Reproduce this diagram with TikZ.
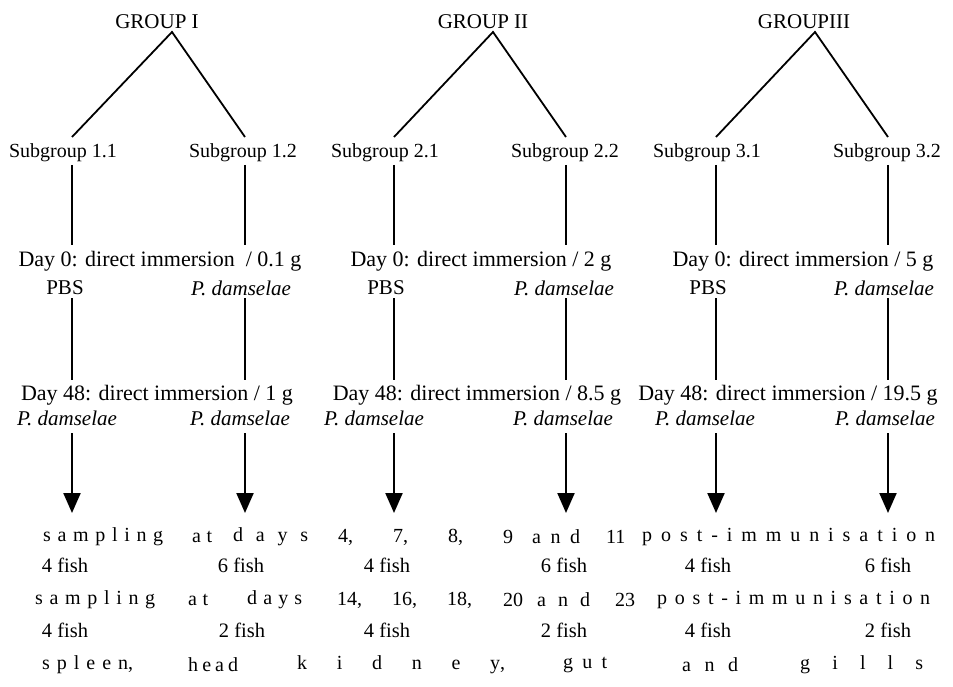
\documentclass[tikz,border=0pt]{standalone}
\usepackage{fontspec}
\setmainfont{Liberation Serif}
\usetikzlibrary{arrows.meta}

% letters of a word spread over a given width (in pt)
\newcommand\spreadword[2]{\makebox[#1pt][s]{\spreadfirst#2\relax}}
\def\spreadfirst#1{#1\spreadnext}
\def\spreadnext#1{\ifx#1\relax\else\hfill#1\expandafter\spreadnext\fi}

\tikzset{
  grouplabel/.style={font=\fontsize{21}{25}\selectfont, inner sep=0pt},
  sublabel/.style={font=\fontsize{20}{24}\selectfont, inner sep=0pt},
  daylabel/.style={font=\fontsize{22}{26}\selectfont, inner sep=0pt},
  agentlabel/.style={font=\fontsize{21}{25}\selectfont, inner sep=0pt},
  fishlabel/.style={font=\fontsize{20.5}{24}\selectfont, inner sep=0pt},
  spread/.style={anchor=west, font=\fontsize{20}{24}\selectfont, inner sep=0pt},
  link/.style={line width=1.8pt},
  downarrow/.style={line width=2.2pt, -{Triangle[length=20pt,width=17pt]}}
}

\begin{document}
\begin{tikzpicture}[x=1pt, y=-1pt]
        \useasboundingbox (0,0) rectangle (953,687);

        % Gruppi
        \node[grouplabel] (g1) at (157,22) {GROUP I};
        \node[grouplabel] (g2) at (483,22) {GROUP II};
        \node[grouplabel] (g3) at (804,22) {GROUPIII};
        \coordinate (apex1) at (172,32);
        \coordinate (apex2) at (493,32);
        \coordinate (apex3) at (815,32);

        % Sottogruppi
        \node[sublabel] (sub11) at (63,153) {Subgroup 1.1};
        \node[sublabel] (sub12) at (243,153) {Subgroup 1.2};
        \node[sublabel] (sub21) at (385,153) {Subgroup 2.1};
        \node[sublabel] (sub22) at (565,153) {Subgroup 2.2};
        \node[sublabel] (sub31) at (707,153) {Subgroup 3.1};
        \node[sublabel] (sub32) at (887,153) {Subgroup 3.2};

        % Colonne: linee e frecce
        \foreach \c/\x in {11/72, 12/245, 21/394, 22/566, 31/716, 32/888} {
            \coordinate (s\c) at (\x,137);
            \coordinate (a\c) at (\x,165);
            \coordinate (b\c) at (\x,245);
            \coordinate (c\c) at (\x,298);
            \coordinate (d\c) at (\x,380);
            \coordinate (e\c) at (\x,433);
            \coordinate (f\c) at (\x,513);
            \draw[link] (a\c) -- (b\c);
            \draw[link] (c\c) -- (d\c);
            \draw[downarrow] (e\c) -- (f\c);
        }
        \draw[link] (s11) -- (apex1) -- (s12);
        \draw[link] (s21) -- (apex2) -- (s22);
        \draw[link] (s31) -- (apex3) -- (s32);

        % Giorno 0
        \node[daylabel] (day01) at (160,261) {Day 0: direct immersion \ / 0.1 g};
        \node[daylabel] (day02) at (481,261) {Day 0: direct immersion / 2 g};
        \node[daylabel] (day03) at (803,261) {Day 0: direct immersion / 5 g};
        \node[agentlabel] (pbs1) at (65,288) {PBS};
        \node[agentlabel] (pd01) at (241,288) {\textit{P. damselae}};
        \node[agentlabel] (pbs2) at (386,288) {PBS};
        \node[agentlabel] (pd02) at (564,288) {\textit{P. damselae}};
        \node[agentlabel] (pbs3) at (708,288) {PBS};
        \node[agentlabel] (pd03) at (884,288) {\textit{P. damselae}};

        % Giorno 48
        \node[daylabel] (day481) at (157,395) {Day 48: direct immersion / 1 g};
        \node[daylabel] (day482) at (477,395) {Day 48: direct immersion / 8.5 g};
        \node[daylabel] (day483) at (788,395) {Day 48: direct immersion / 19.5 g};
        \node[agentlabel] (pd11) at (67,418) {\textit{P. damselae}};
        \node[agentlabel] (pd12) at (240,418) {\textit{P. damselae}};
        \node[agentlabel] (pd21) at (374,418) {\textit{P. damselae}};
        \node[agentlabel] (pd22) at (563,418) {\textit{P. damselae}};
        \node[agentlabel] (pd31) at (705,418) {\textit{P. damselae}};
        \node[agentlabel] (pd32) at (885,418) {\textit{P. damselae}};

        % Primo campionamento
        \node[spread] (ra1) at (43,537) {\spreadword{120}{sampling}};
        \node[spread] (ra2) at (192,537) {\spreadword{20}{at}};
        \node[spread] (ra3) at (233,537) {\spreadword{75}{days}};
        \node[spread] (ra4) at (338,537) {4,};
        \node[spread] (ra5) at (393,537) {7,};
        \node[spread] (ra6) at (448,537) {8,};
        \node[spread] (ra7) at (503,537) {9};
        \node[spread] (ra8) at (532,537) {\spreadword{48}{and}};
        \node[spread] (ra9) at (606,537) {11};
        \node[spread] (ra10) at (642,537) {\spreadword{293}{post-immunisation}};
        \node[fishlabel] (fa1) at (65,565) {4 fish};
        \node[fishlabel] (fa2) at (241,565) {6 fish};
        \node[fishlabel] (fa3) at (387,565) {4 fish};
        \node[fishlabel] (fa4) at (564,565) {6 fish};
        \node[fishlabel] (fa5) at (708,565) {4 fish};
        \node[fishlabel] (fa6) at (888,565) {6 fish};

        % Secondo campionamento
        \node[spread] (rb1) at (35,600) {\spreadword{120}{sampling}};
        \node[spread] (rb2) at (188,600) {\spreadword{20}{at}};
        \node[spread] (rb3) at (247,600) {\spreadword{55}{days}};
        \node[spread] (rb4) at (337,600) {14,};
        \node[spread] (rb5) at (392,600) {16,};
        \node[spread] (rb6) at (447,600) {18,};
        \node[spread] (rb7) at (503,600) {20};
        \node[spread] (rb8) at (537,600) {\spreadword{53}{and}};
        \node[spread] (rb9) at (615,600) {23};
        \node[spread] (rb10) at (657,600) {\spreadword{273}{post-immunisation}};
        \node[fishlabel] (fb1) at (65,630) {4 fish};
        \node[fishlabel] (fb2) at (242,630) {2 fish};
        \node[fishlabel] (fb3) at (387,630) {4 fish};
        \node[fishlabel] (fb4) at (564,630) {2 fish};
        \node[fishlabel] (fb5) at (708,630) {4 fish};
        \node[fishlabel] (fb6) at (888,630) {2 fish};

        % Organi
        \node[spread] (rc1) at (42,665) {\spreadword{86}{spleen},};
        \node[spread] (rc2) at (188,665) {\spreadword{50}{head}};
        \node[spread] (rc3) at (297,665) {\spreadword{203}{kidney},};
        \node[spread] (rc4) at (563,665) {\spreadword{44}{gut}};
        \node[spread] (rc5) at (682,665) {\spreadword{56}{and}};
        \node[spread] (rc6) at (800,665) {\spreadword{123}{gills}};
\end{tikzpicture}
\end{document}
